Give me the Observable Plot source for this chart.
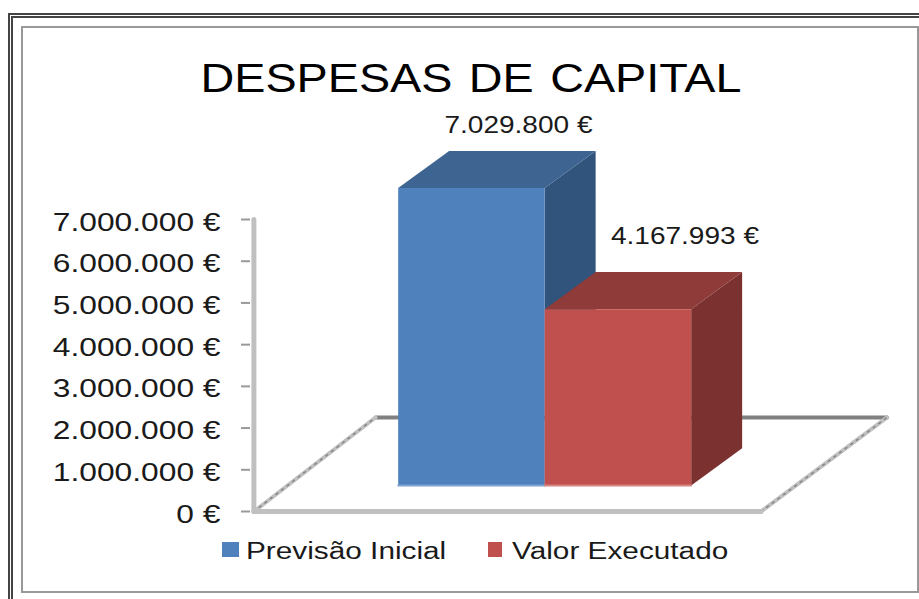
<!DOCTYPE html>
<html lang="pt">
<head>
<meta charset="utf-8">
<script src="https://cdn.jsdelivr.net/npm/d3@7"></script>
<script src="https://cdn.jsdelivr.net/npm/@observablehq/plot@0.6"></script>
<style>
  html, body { margin: 0; padding: 0; width: 919px; height: 599px; overflow: hidden; background: #fff; font-family: "Liberation Sans", Arial, sans-serif; }
  #outer { position: absolute; left: 8px; top: 13px; width: 1000px; height: 800px; border: 5px double #444; box-sizing: border-box; }
  #inner { position: absolute; left: 21px; top: 26px; width: 898px; height: 567px; border: 2px solid #999; box-sizing: border-box; }
  #chart { position: absolute; left: 0; top: 0; }
  #title { position: absolute; left: 471px; top: 53px; font-size: 41px; line-height: 50px; word-spacing: 3px; color: #000; white-space: nowrap; transform: translateX(-50%) scaleX(1.14); }
  .item { position: absolute; top: 537px; height: 28px; line-height: 28px; font-size: 23.5px; color: #1a1a1a; white-space: nowrap; transform: scaleX(1.267); transform-origin: left center; }
  .swatch { position: absolute; top: 542px; height: 15px; }
</style>
</head>
<body>
<div id="outer"></div>
<div id="inner"></div>
<div id="title"></div>
<div id="chart"></div>
<div id="legend"></div>
<script>
const chartTitle = "DESPESAS DE CAPITAL";
const series = ["Previsão Inicial", "Valor Executado"];
const values = [7029800, 4167993];
const valueTicks = [0, 1000000, 2000000, 3000000, 4000000, 5000000, 6000000, 7000000];
const frontColors = ["#4f81bd", "#c0504d"];
const topColors = ["#3e6492", "#8f3b39"];
const sideColors = ["#31547c", "#7b312f"];
const edgeColors = ["#7fa4d3", "#d58683"];

// oblique floor: how far a full step of depth moves a point, in scale units
const depthSlot = 0.83;
const depthValue = 2254000;
const barFrontDepth = 0.277;
const barBackDepth = 0.672;
const barBackNudge = 0.02;
const barGain = 1.014;
const floorLeft = -0.755;
const floorRight = 2.707;

const project = (slot, value, depth) => ({x: slot + depth * depthSlot, y: value + depth * depthValue});
const face = (...corners) => corners.map(c => project(...c));

const nf = d3.formatLocale({decimal: ",", thousands: ".", grouping: [3], currency: ["", " €"]}).format(",d");
const euro = v => nf(v) + " €";

// the source text is horizontally stretched
const stretched = s => (index, scales, vals, dims, ctx, next) => {
  const g = next(index, scales, vals, dims, ctx);
  g.querySelectorAll("text").forEach(t => t.setAttribute("transform", (t.getAttribute("transform") || "") + ` scale(${s},1)`));
  return g;
};

const floorMarks = [
  Plot.line(face([floorLeft, 0, 1], [floorRight + 0.03, 0, 1]), {x: "x", y: "y", stroke: "#808080", strokeWidth: 4}),
  ...[floorLeft, floorRight].map(s => Plot.line(face([s, 0, 0], [s + (s === floorRight ? 0.03 : 0), 0, 1]), {x: "x", y: "y", stroke: "#c0c0c0", strokeWidth: 4})),
  ...[floorLeft, floorRight].map(s => Plot.line(face([s, 0, 0], [s + (s === floorRight ? 0.03 : 0), 0, 1]), {x: "x", y: "y", stroke: "#858585", strokeWidth: 1.5, strokeDasharray: "2 5"})),
  Plot.line(face([floorLeft, 0, 0], [floorRight, 0, 0]), {x: "x", y: "y", stroke: "#c0c0c0", strokeWidth: 5}),
  Plot.line([{x: floorLeft, y: 0}, {x: floorLeft, y: valueTicks[valueTicks.length - 1]}], {x: "x", y: "y", stroke: "#c0c0c0", strokeWidth: 5})
];

const barMarks = values.flatMap((v, i) => {
  const h = v * barGain;
  const a = barFrontDepth, b = barBackDepth, n = barBackNudge;
  return [
    Plot.line(face([i + 1, h, a], [i + 1 + n, h, b], [i + 1 + n, 0, b], [i + 1, 0, a]), {x: "x", y: "y", fill: sideColors[i]}),
    Plot.line(face([i, h, a], [i + n, h, b], [i + 1 + n, h, b], [i + 1, h, a]), {x: "x", y: "y", fill: topColors[i]}),
    Plot.line(face([i, 0, a], [i, h, a], [i + 1, h, a], [i + 1, 0, a]), {x: "x", y: "y", fill: frontColors[i]}),
    Plot.line(face([i, 0, a], [i + 1, 0, a]), {x: "x", y: "y", stroke: edgeColors[i], strokeWidth: 2})
  ];
});

const labelPlace = [{dx: -1, dy: -25}, {dx: 19, dy: -35}];
const labelMarks = values.map((v, i) => {
  const p = project(i + 0.5, v * barGain, barBackDepth);
  return Plot.text([v], {
    x: () => p.x, y: () => p.y, text: euro,
    dx: labelPlace[i].dx, dy: labelPlace[i].dy,
    fontSize: 23, fill: "#1a1a1a", lineAnchor: "middle",
    render: stretched(1.22)
  });
});

const plot = Plot.plot({
  width: 919,
  height: 599,
  marginLeft: 250,
  marginTop: 0, marginRight: 0, marginBottom: 0,
  style: {background: "transparent", fontFamily: '"Liberation Sans", Arial, sans-serif', overflow: "visible"},
  x: {domain: [0, 2], range: [364, 657], axis: null},
  y: {domain: [0, 7000000], range: [511, 219], axis: null},
  marks: [
    ...floorMarks,
    Plot.axisY(valueTicks, {
      anchor: "left", tickSize: 9, tickPadding: 21, tickFormat: euro, label: null,
      fontSize: 25, stroke: "#999", strokeWidth: 2, color: "#1a1a1a", textStroke: "none"
    }),
    ...barMarks,
    ...labelMarks
  ]
});

// tick labels sit a little below their ticks and share the stretched lettering
plot.querySelectorAll('g[aria-label="y-axis tick label"] text').forEach(t =>
  t.setAttribute("transform", "translate(0,3) " + (t.getAttribute("transform") || "") + " scale(1.27,1)"));
document.getElementById("chart").append(plot);

document.getElementById("title").textContent = chartTitle;
const legend = document.getElementById("legend");
const legendSwatchX = [222, 488];
const legendSwatchW = [17, 14];
const legendTextX = [246, 512];
series.forEach((name, i) => {
  const sw = document.createElement("div");
  sw.className = "swatch";
  sw.style.left = legendSwatchX[i] + "px";
  sw.style.width = legendSwatchW[i] + "px";
  sw.style.background = frontColors[i];
  const tx = document.createElement("div");
  tx.className = "item";
  tx.style.left = legendTextX[i] + "px";
  tx.textContent = name;
  legend.append(sw, tx);
});
</script>
</body>
</html>
